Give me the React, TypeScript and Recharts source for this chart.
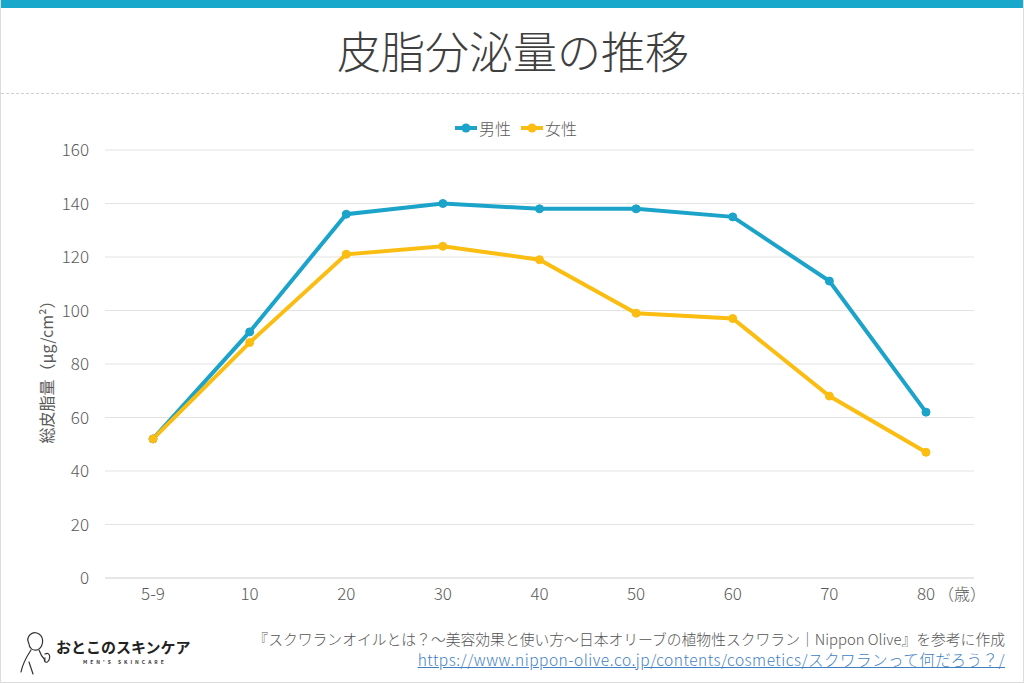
import { CartesianGrid, Line, LineChart, XAxis, YAxis } from "recharts";

const ages = ["5-9", "10", "20", "30", "40", "50", "60", "70", "80"];
const male = [52, 92, 136, 140, 138, 138, 135, 111, 62];
const female = [52, 88, 121, 124, 119, 99, 97, 68, 47];
const yTicks = [0, 20, 40, 60, 80, 100, 120, 140, 160];

const data = ages.map((age, i) => ({ age, male: male[i], female: female[i] }));

const FONT = "'Noto Sans CJK JP', 'Noto Sans', sans-serif";
const TEAL = "#1ba3c9";
const YELLOW = "#fbbd12";
const TICK = "#5a5a5a";

function AgeTick({ x, y, payload, index }: any) {
  const last = index === ages.length - 1;
  return (
    <g>
      <text x={x} y={y + 14} textAnchor="middle" fill={TICK} fontSize={17} fontFamily={FONT} fontWeight={300}>
        {payload.value}
      </text>
      {last && (
        <text x={x + 12} y={y + 14} textAnchor="start" fill={TICK} fontSize={16} fontFamily={FONT} fontWeight={300}>
          （歳）
        </text>
      )}
    </g>
  );
}

function LegendItem({ color, label }: { color: string; label: string }) {
  return (
    <span style={{ display: "inline-flex", alignItems: "center", marginRight: 10 }}>
      <svg width={22} height={10}>
        <line x1={0} y1={5} x2={22} y2={5} stroke={color} strokeWidth={4} />
        <circle cx={11} cy={5} r={4.5} fill={color} />
      </svg>
      <span style={{ marginLeft: 2 }}>{label}</span>
    </span>
  );
}

export default function App() {
  return (
    <div
      style={{
        position: "absolute",
        left: 0,
        top: 0,
        width: 1024,
        height: 683,
        background: "#fff",
        fontFamily: FONT,
        overflow: "hidden",
        boxSizing: "border-box",
        borderLeft: "1px solid #dcdcdc",
        borderRight: "1px solid #dcdcdc",
        borderBottom: "1px solid #dcdcdc",
      }}
    >
      <div style={{ position: "absolute", left: 0, top: 0, width: 1024, height: 8, background: "#17a8cc" }} />
      <div
        style={{
          position: "absolute",
          left: 0,
          top: 22,
          width: 1024,
          textAlign: "center",
          fontSize: 44,
          lineHeight: "56px",
          color: "#3f3f3f",
          fontWeight: 300,
        }}
      >
        皮脂分泌量の推移
      </div>
      <div style={{ position: "absolute", left: 0, top: 93, width: 1024, borderTop: "1px dashed #cfcfcf" }} />

      <div
        style={{
          position: "absolute",
          left: 0,
          top: 114,
          width: 1024,
          textAlign: "center",
          fontSize: 16,
          color: TICK,
          fontWeight: 300,
          paddingLeft: 8,
        }}
      >
        <LegendItem color={TEAL} label="男性" />
        <LegendItem color={YELLOW} label="女性" />
      </div>

      <div style={{ position: "absolute", left: 0, top: 0 }}>
        <LineChart width={1024} height={683} data={data} margin={{ top: 150, right: 51, bottom: 75, left: 44 }}>
          <CartesianGrid vertical={false} stroke="#e3e3e3" strokeWidth={1} />
          <XAxis
            dataKey="age"
            axisLine={{ stroke: "#dcdcdc" }}
            tickLine={false}
            height={30}
            tick={<AgeTick />}
            interval={0}
            padding={{ left: 48, right: 48 }}
          />
          <YAxis
            domain={[0, 160]}
            ticks={yTicks}
            width={60}
            axisLine={false}
            tickLine={false}
            tickMargin={10}
            tick={{ fill: TICK, fontSize: 17, fontFamily: FONT, fontWeight: 300 }}
            label={{
              value: "総皮脂量（μg/cm²）",
              angle: -90,
              position: "center",
              dx: -28,
              dy: 4,
              fill: TICK,
              fontSize: 16,
              fontFamily: FONT,
            }}
          />
          <Line
            dataKey="male"
            stroke={TEAL}
            strokeWidth={4}
            dot={{ r: 4, fill: TEAL, stroke: TEAL, strokeWidth: 1 }}
            isAnimationActive={false}
          />
          <Line
            dataKey="female"
            stroke={YELLOW}
            strokeWidth={4}
            dot={{ r: 4, fill: YELLOW, stroke: YELLOW, strokeWidth: 1 }}
            isAnimationActive={false}
          />
        </LineChart>
      </div>

      <svg style={{ position: "absolute", left: 14, top: 628 }} width={44} height={48}>
        <g fill="none" stroke="#333" strokeWidth={1.2} strokeLinecap="round">
          <path d="M14 16 C10 8, 18 2, 24 6 C30 10, 28 20, 22 22 C18 23, 14 20, 14 16" />
          <path d="M16 22 C12 28, 8 34, 6 44" />
          <path d="M24 22 C26 28, 28 30, 30 32" />
          <path d="M30 26 C34 24, 36 28, 34 32 C32 36, 28 34, 30 30" />
          <path d="M14 34 L18 46" />
        </g>
      </svg>
      <div
        style={{
          position: "absolute",
          left: 55,
          top: 636,
          fontSize: 15,
          fontWeight: 700,
          color: "#222",
        }}
      >
        おとこのスキンケア
      </div>
      <div
        style={{
          position: "absolute",
          left: 82,
          top: 658,
          fontSize: 5,
          fontWeight: 700,
          color: "#333",
          letterSpacing: 3,
        }}
      >
        MEN'S SKINCARE
      </div>

      <div
        style={{
          position: "absolute",
          right: 18,
          top: 629,
          textAlign: "right",
          lineHeight: "20px",
          color: "#555",
          fontWeight: 300,
        }}
      >
        <div style={{ fontSize: 14.8 }}>
          『スクワランオイルとは？～美容効果と使い方～日本オリーブの植物性スクワラン｜Nippon Olive』を参考に作成
        </div>
        <div style={{ color: "#3f7fc4", textDecoration: "underline", fontSize: 15.5, letterSpacing: 0.5 }}>
          https://www.nippon-olive.co.jp/contents/cosmetics/スクワランって何だろう？/
        </div>
      </div>
    </div>
  );
}
